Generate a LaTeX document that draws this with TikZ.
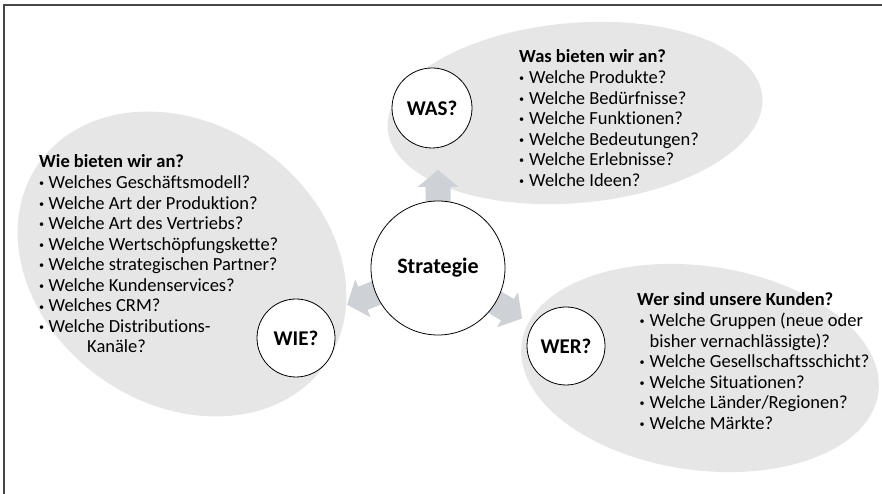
\documentclass[tikz,border=0pt]{standalone}
\usepackage{fontspec}
\usepackage{graphicx}
\setmainfont{Carlito}[Ligatures={NoCommon}]
\usetikzlibrary{shapes.geometric}
\definecolor{ellfill}{RGB}{230,230,230}
\definecolor{arrfill}{RGB}{206,209,214}
\definecolor{framec}{RGB}{70,70,70}
% bullet: small dot, offset #1 from the line start, text starts at #2
\newcommand{\blt}[2]{\makebox[#2][l]{\hspace*{#1}\raisebox{1.8pt}{\scalebox{0.55}{•}}}}
\begin{document}
\begin{tikzpicture}[x=1pt,y=1pt,
  blob/.style={ellipse, fill=ellfill, draw=none, inner sep=0pt},
  disc/.style={circle, fill=white, draw=black, line width=0.8pt, inner sep=0pt,
    font=\bfseries\fontsize{21}{25}\selectfont},
  listline/.style={anchor=base west, inner sep=0pt, font=\fontsize{18.5}{20}\selectfont},
  listhead/.style={anchor=base west, inner sep=0pt, font=\bfseries\fontsize{18.5}{20}\selectfont},
  blockarrow/.style={fill=arrfill, draw=none}]
\useasboundingbox (0,0) rectangle (882,494);
\fill[white] (0,0) rectangle (882,494);
\draw[framec, line width=1.5pt] (4,0) -- (4,489) -- (882,489);

% background ellipses
\node[blob, minimum width=376pt, minimum height=180pt, rotate=5] (wasell) at (575,381) {};
\node[blob, minimum width=350pt, minimum height=280pt, rotate=-35] (wieell) at (182,230) {};
\node[blob, minimum width=360pt, minimum height=204pt, rotate=-8] (werell) at (700,126) {};

% block arrows from the centre
\coordinate (sc) at (438,226);
\foreach \ang/\nm in {90/was, 202/wie, -31/wer}{
  \fill[blockarrow, shift={(sc)}, rotate=\ang]
    (55,-12.5) -- (81,-12.5) -- (81,-20.5) -- (98,0) -- (81,20.5) -- (81,12.5) -- (55,12.5) -- cycle;
}

% circles
\node[disc, minimum size=134pt, font=\bfseries\fontsize{22}{26}\selectfont] (strat) at (sc) {Strategie};
\node[disc, minimum size=80pt] (was) at (432,386) {WAS?};
\node[disc, minimum size=78pt] (wie) at (296,156) {WIE?};
\node[disc, minimum size=78pt] (wer) at (566,148) {WER?};

% WAS list
\node[listhead] (was0) at (519,431) {Was bieten wir an?};
\node[listline] (was1) at (519,410.45) {\blt{0pt}{10pt}Welche Produkte?};
\node[listline] (was2) at (519,389.9) {\blt{0pt}{10pt}Welche Bedürfnisse?};
\node[listline] (was3) at (519,369.35) {\blt{0pt}{10pt}Welche Funktionen?};
\node[listline] (was4) at (519,348.8) {\blt{0pt}{10pt}Welche Bedeutungen?};
\node[listline] (was5) at (519,328.25) {\blt{0pt}{10pt}Welche Erlebnisse?};
\node[listline] (was6) at (519,307.7) {\blt{0pt}{10pt}Welche Ideen?};

% WIE list
\node[listhead] (wie0) at (39,326) {Wie bieten wir an?};
\node[listline] (wie1) at (39,305.45) {\blt{0pt}{9.5pt}Welches Geschäftsmodell?};
\node[listline] (wie2) at (39,284.9) {\blt{0pt}{9.5pt}Welche Art der Produktion?};
\node[listline] (wie3) at (39,264.35) {\blt{0pt}{9.5pt}Welche Art des Vertriebs?};
\node[listline] (wie4) at (39,243.8) {\blt{0pt}{9.5pt}Welche Wertschöpfungskette?};
\node[listline] (wie5) at (39,223.25) {\blt{0pt}{9.5pt}Welche strategischen Partner?};
\node[listline] (wie6) at (39,202.7) {\blt{0pt}{9.5pt}Welche Kundenservices?};
\node[listline] (wie7) at (39,182.15) {\blt{0pt}{9.5pt}Welches CRM?};
\node[listline] (wie8) at (39,161.6) {\blt{0pt}{9.5pt}Welche Distributions-};
\node[listline] (wie9) at (87,141.05) {Kanäle?};

% WER list
\node[listhead] (wer0) at (637,188) {Wer sind unsere Kunden?};
\node[listline] (wer1) at (637,167.45) {\blt{2.5pt}{12.5pt}Welche Gruppen (neue oder};
\node[listline] (wer2) at (649.5,146.9) {bisher vernachlässigte)?};
\node[listline] (wer3) at (637,126.35) {\blt{2.5pt}{12.5pt}Welche Gesellschaftsschicht?};
\node[listline] (wer4) at (637,105.8) {\blt{2.5pt}{12.5pt}Welche Situationen?};
\node[listline] (wer5) at (637,85.25) {\blt{2.5pt}{12.5pt}Welche Länder/Regionen?};
\node[listline] (wer6) at (637,64.7) {\blt{2.5pt}{12.5pt}Welche Märkte?};
\end{tikzpicture}
\end{document}
